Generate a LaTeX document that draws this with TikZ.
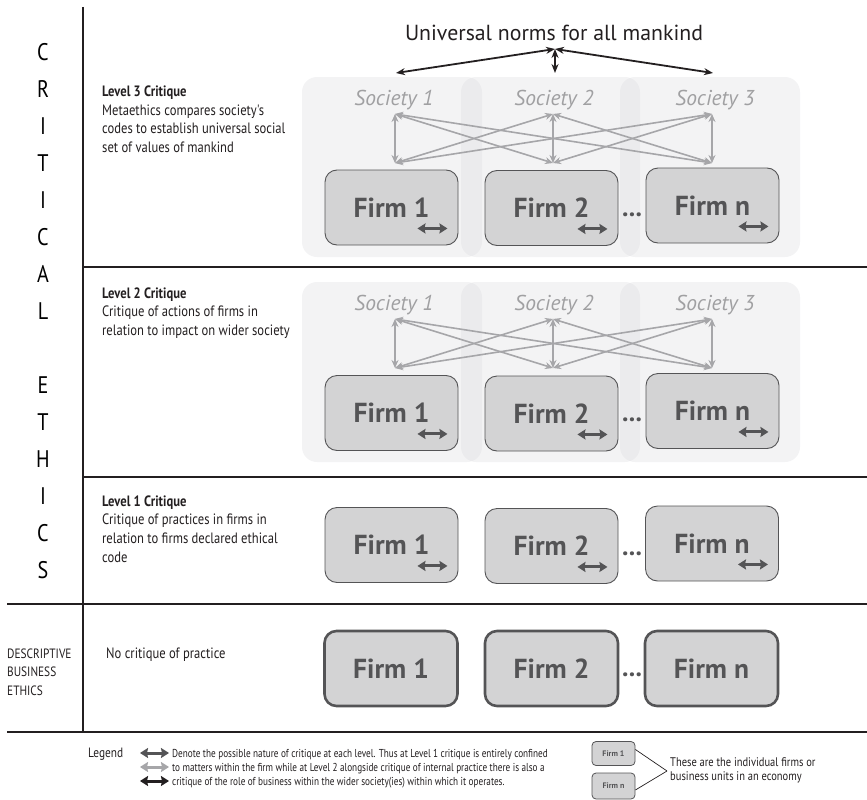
\documentclass[tikz,border=0pt]{standalone}
\usepackage{fontspec}
\setmainfont{PT Sans}
\newfontfamily\condfont[FakeStretch=0.84]{PT Sans}
\newfontfamily\narrowfont[FakeStretch=0.8]{PT Sans}
\usetikzlibrary{arrows.meta}

\definecolor{firmfill}{RGB}{211,211,212}
\definecolor{firmline}{RGB}{84,84,86}
\definecolor{socfill}{RGB}{219,219,222}
\definecolor{soctext}{RGB}{160,160,162}
\definecolor{crossline}{RGB}{166,166,169}
\definecolor{ruleclr}{RGB}{35,31,32}

% left-aligned lines whose first baseline is the node's baseline
\newcommand\textlines[1]{\begin{tabular}[t]{@{}l@{}}#1\end{tabular}}

\tikzset{
  rulel/.style={ruleclr, line width=1.8pt},
  firmbox/.style={draw=firmline, line width=0.9pt, fill=firmfill, rounded corners=12pt,
    minimum width=133pt, minimum height=75pt, inner sep=0pt,
    font=\fontsize{27.5}{29}\selectfont\bfseries, text=firmline},
  firmboxthick/.style={firmbox, line width=2.6pt},
  dotsl/.style={font=\fontsize{26}{28}\selectfont\bfseries, text=firmline, inner sep=0pt, anchor=base},
  societybg/.style={fill=socfill, fill opacity=0.33, rounded corners=15pt},
  societylabel/.style={font=\fontsize{21.5}{23}\selectfont\itshape, text=soctext, inner sep=0pt},
  crossarrow/.style={crossline, line width=1.6pt,
    {Stealth[length=8pt,width=7pt]}-{Stealth[length=8pt,width=7pt]}},
  innerarrow/.style={firmline, line width=3pt,
    {Stealth[length=8pt,width=10pt,inset=1pt]}-{Stealth[length=8pt,width=10pt,inset=1pt]}},
  normarrow/.style={ruleclr, line width=1.8pt,
    {Stealth[length=9pt,width=7pt]}-{Stealth[length=9pt,width=7pt]}},
  sideletter/.style={font=\condfont\fontsize{24}{24}\selectfont, inner sep=0pt},
  leveltext/.style={font=\condfont\fontsize{15}{18.7}\selectfont, text=ruleclr,
    anchor=base west, inner sep=0pt},
  legendtext/.style={font=\narrowfont\fontsize{11.5}{14}\selectfont, text=ruleclr,
    anchor=base west, inner sep=0pt},
  minifirm/.style={draw=firmline, line width=0.8pt, fill=firmfill, rounded corners=4pt,
    minimum width=43pt, minimum height=24pt, inner sep=0pt,
    font=\fontsize{8}{9}\selectfont\bfseries, text=firmline},
  pointer/.style={ruleclr, line width=0.7pt}
}

% one firm with its internal-critique arrow
\newcommand\firmunit[4]{%
  \node[firmbox] (#1) at (#2,#3) {Firm #4};
  \coordinate (#1a) at ([shift={(-41,-17)}]#1.south east);
  \coordinate (#1b) at ([shift={(-11,-17)}]#1.south east);
  \draw[innerarrow] (#1a) -- (#1b);
}

% three societies with their mutual arrows, shifted down by #1
\newcommand\societyrow[2]{%
  \fill[societybg] (302,{77+#1}) rectangle (482,{257+#1});
  \fill[societybg] (461,{77+#1}) rectangle (640,{257+#1});
  \fill[societybg] (620,{77+#1}) rectangle (800,{257+#1});
  \node[societylabel] (#2s1) at (394,{100+#1}) {Society 1};
  \node[societylabel] (#2s2) at (554,{100+#1}) {Society 2};
  \node[societylabel] (#2s3) at (715,{100+#1}) {Society 3};
  \coordinate (#2t1) at (395,{114+#1});
  \coordinate (#2t2) at (553,{114+#1});
  \coordinate (#2t3) at (712,{114+#1});
  \coordinate (#2b1) at (395,{163+#1});
  \coordinate (#2b2) at (553,{163+#1});
  \coordinate (#2b3) at (712,{163+#1});
  \foreach \i in {1,2,3}{\foreach \j in {1,2,3}{
    \draw[crossarrow] (#2t\i) -- (#2b\j);}}
}

\begin{document}
\begin{tikzpicture}[x=1pt,y=-1pt]
\useasboundingbox (0,0) rectangle (867,800);

% frame of the levels
\coordinate (vtop) at (83,7);
\coordinate (vbot) at (83,732);
\draw[rulel] (vtop) -- (vbot);
\coordinate (h3l) at (83,267);  \coordinate (h3r) at (867,267);
\coordinate (h2l) at (83,477);  \coordinate (h2r) at (867,477);
\coordinate (h1l) at (7,604);   \coordinate (h1r) at (867,604);
\coordinate (h0l) at (7,732);   \coordinate (h0r) at (867,732);
\draw[rulel] (h3l) -- (h3r);
\draw[rulel] (h2l) -- (h2r);
\draw[rulel] (h1l) -- (h1r);
\draw[rulel] (h0l) -- (h0r);

% vertical heading
\foreach \ch/\k in {C/0,R/1,I/2,T/3,I/4,C/5,A/6,L/7,E/9,T/10,H/11,I/12,C/13,S/14}{
  \node[sideletter] (letter\k) at (43,{52+37*\k}) {\ch};
}

% level descriptions
\node[leveltext] (l3text) at (102,96.5) {\textlines{\textbf{Level 3 Critique}\\Metaethics compares society's\\codes to establish universal social\\set of values of mankind}};
\node[leveltext] (l2text) at (102,298) {\textlines{\textbf{Level 2 Critique}\\Critique of actions of firms in\\relation to impact on wider society}};
\node[leveltext] (l1text) at (102,506) {\textlines{\textbf{Level 1 Critique}\\Critique of practices in firms in\\relation to firms declared ethical\\code}};
\node[leveltext] (l0text) at (106,658) {No critique of practice};
\node[leveltext, font=\condfont\fontsize{13.5}{18.5}\selectfont] (desc) at (7,658) {\textlines{DESCRIPTIVE\\BUSINESS\\ETHICS}};

% universal norms
\node[font=\fontsize{21.8}{24}\selectfont, text=ruleclr, inner sep=0pt] (norms) at (554,33) {Universal norms for all mankind};
\coordinate (apex) at (555,49);
\coordinate (n1) at (396,73);
\coordinate (n2) at (555,73);
\coordinate (n3) at (713,73);
\draw[normarrow] (apex) -- (n1);
\draw[normarrow] (apex) -- (n2);
\draw[normarrow] (apex) -- (n3);

% level 3
\societyrow{0}{a}
\firmunit{aF1}{391.5}{207.5}{1}
\firmunit{aF2}{551.5}{208}{2}
\firmunit{aFn}{712.5}{205.5}{n}
\node[dotsl] (adots) at (632,216) {...};

% level 2
\societyrow{205}{b}
\firmunit{bF1}{391.5}{413}{1}
\firmunit{bF2}{551.5}{413.5}{2}
\firmunit{bFn}{712.5}{411}{n}
\node[dotsl] (bdots) at (632,421) {...};

% level 1
\firmunit{cF1}{391.5}{545}{1}
\firmunit{cF2}{551.5}{546}{2}
\firmunit{cFn}{712}{543.5}{n}
\node[dotsl] (cdots) at (632,555) {...};

% descriptive level
\node[firmboxthick] (dF1) at (391,668.5) {Firm 1};
\node[firmboxthick] (dF2) at (551.5,668.5) {Firm 2};
\node[firmboxthick] (dFn) at (711.5,668.5) {Firm n};
\node[dotsl] (ddots) at (632,676) {...};

% legend
\node[legendtext, font=\condfont\fontsize{13.5}{14}\selectfont] (legend) at (88,757) {Legend};
\coordinate (la1) at (140,753); \coordinate (lb1) at (169,753);
\coordinate (la2) at (140,767); \coordinate (lb2) at (169,767);
\coordinate (la3) at (140,781); \coordinate (lb3) at (169,781);
\draw[innerarrow] (la1) -- (lb1);
\draw[innerarrow, crossline] (la2) -- (lb2);
\draw[innerarrow, ruleclr] (la3) -- (lb3);
\node[legendtext] (legtext) at (172,757) {\textlines{Denote the possible nature of critique at each level. Thus at Level 1 critique is entirely confined\\to matters within the firm while at Level 2 alongside critique of internal practice there is also a\\critique of the role of business within the wider society(ies) within which it operates.}};

\node[minifirm] (mf1) at (613.5,753.5) {Firm 1};
\node[minifirm, minimum height=26pt] (mfn) at (613.5,786) {Firm n};
\coordinate (vertex) at (667,771);
\coordinate (mf1p) at ([yshift=4pt]mf1.east);
\coordinate (mfnp) at ([yshift=-4pt]mfn.east);
\draw[pointer] (mf1p) -- (vertex);
\draw[pointer] (mfnp) -- (vertex);
\node[legendtext, font=\condfont\fontsize{12.5}{14.5}\selectfont] (mftext) at (670,766) {\textlines{These are the individual firms or\\business units in an economy}};
\end{tikzpicture}
\end{document}
